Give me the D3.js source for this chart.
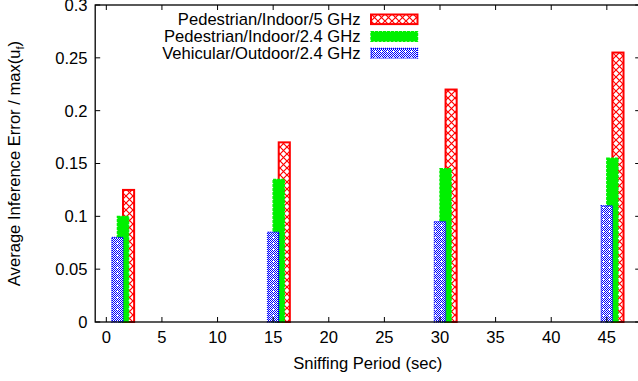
<!DOCTYPE html>
<html><head><meta charset="utf-8">
<script src="https://cdn.jsdelivr.net/npm/d3@7"></script>
<style>
html,body{margin:0;padding:0;background:#fff;}
svg text{font-family:"Liberation Sans",Arial,Helvetica,sans-serif;font-size:16.6px;fill:#000;}
</style></head>
<body>
<svg id="chart" width="638" height="381"></svg>
<script>
// ---- data ----
const periods = [1, 15, 30, 45];
const seriesNames = ["Pedestrian/Indoor/5 GHz", "Pedestrian/Indoor/2.4 GHz", "Vehicular/Outdoor/2.4 GHz"];
const ped5 = [0.125, 0.17, 0.22, 0.255];
const ped24 = [0.10, 0.135, 0.145, 0.155];
const veh24 = [0.08, 0.085, 0.095, 0.11];
const xTicks = [0, 5, 10, 15, 20, 25, 30, 35, 40, 45];
const yTicks = [0, 0.05, 0.1, 0.15, 0.2, 0.25, 0.3];
const xLabel = "Sniffing Period (sec)";

// ---- layout ----
const svg = d3.select("#chart");
const L = 95.2, R = 640.2, T = 5, B = 322;
const x = d3.scaleLinear().domain([-1, 48]).range([L, R]);
const y = d3.scaleLinear().domain([0, 0.3]).range([B, T]);

// patterns
const defs = svg.append("defs");
const pr = defs.append("pattern").attr("id", "pRed").attr("patternUnits", "userSpaceOnUse")
  .attr("width", 7).attr("height", 7);
pr.append("rect").attr("width", 7).attr("height", 7).attr("fill", "#fff");
pr.append("path").attr("d", "M0,0L7,7M7,0L0,7").attr("stroke", "#ff0000").attr("stroke-width", 1.2);

const pg = defs.append("pattern").attr("id", "pGreen").attr("patternUnits", "userSpaceOnUse")
  .attr("width", 4).attr("height", 4);
pg.append("rect").attr("width", 4).attr("height", 4).attr("fill", "#00f000");

const pb = defs.append("pattern").attr("id", "pBlue").attr("patternUnits", "userSpaceOnUse")
  .attr("width", 6).attr("height", 6);
pb.append("rect").attr("width", 6).attr("height", 6).attr("fill", "#fff");
pb.append("path").attr("d", "M0,0h1v1h-1zM2,0h1v1h-1zM4,0h1v1h-1zM1,1h1v1h-1zM3,1h1v1h-1zM5,1h1v1h-1zM0,2h1v1h-1zM2,2h1v1h-1zM4,2h1v1h-1zM1,3h1v1h-1zM5,3h1v1h-1zM0,4h1v1h-1zM2,4h1v1h-1zM4,4h1v1h-1zM1,5h1v1h-1zM3,5h1v1h-1zM5,5h1v1h-1z")
  .attr("fill", "#0000ff");

const series = [
  {name: seriesNames[0], values: ped5, off: 1.0, fill: "url(#pRed)", stroke: "#ff0000", dash: null, sw: 2},
  {name: seriesNames[1], values: ped24, off: 0.5, fill: "url(#pGreen)", stroke: "#00f000", dash: "3,1", sw: 1.4},
  {name: seriesNames[2], values: veh24, off: 0.0, fill: "url(#pBlue)", stroke: "#0000ff", dash: "1,1", sw: 1.4}
];
const bw = 1.0;

// bars (red, green, blue order so blue on top)
series.forEach(s => {
  svg.append("g").selectAll("rect").data(periods.map((p, i) => ({p, v: s.values[i]})))
    .join("rect")
    .attr("x", d => x(d.p + s.off - bw / 2))
    .attr("width", d => x(d.p + s.off + bw / 2) - x(d.p + s.off - bw / 2))
    .attr("y", d => y(d.v))
    .attr("height", d => y(0) - y(d.v))
    .attr("fill", s.fill)
    .attr("stroke", s.stroke)
    .attr("stroke-width", s.sw)
    .attr("stroke-dasharray", s.dash);
});

// frame
svg.append("rect").attr("x", L).attr("y", T).attr("width", R - L).attr("height", B - T)
  .attr("fill", "none").attr("stroke", "#000").attr("stroke-width", 1.3);

// ticks (inward, mirrored)
const tl = 5;
const tg = svg.append("g").attr("stroke", "#000").attr("stroke-width", 1);
xTicks.forEach(t => {
  tg.append("line").attr("x1", x(t)).attr("x2", x(t)).attr("y1", B).attr("y2", B - tl);
  tg.append("line").attr("x1", x(t)).attr("x2", x(t)).attr("y1", T).attr("y2", T + tl);
});
yTicks.forEach(t => {
  tg.append("line").attr("x1", L).attr("x2", L + tl).attr("y1", y(t)).attr("y2", y(t));
  tg.append("line").attr("x1", R).attr("x2", R - tl).attr("y1", y(t)).attr("y2", y(t));
});

// tick labels
svg.append("g").selectAll("text").data(xTicks).join("text")
  .attr("x", d => x(d)).attr("y", 343).attr("text-anchor", "middle").text(d => d);
svg.append("g").selectAll("text").data(yTicks).join("text")
  .attr("x", 87.5).attr("y", d => y(d)).attr("dy", "0.36em").attr("text-anchor", "end")
  .text(d => String(+d.toFixed(2)));

// axis labels
svg.append("text").attr("x", (L + R) / 2).attr("y", 369).attr("text-anchor", "middle").text(xLabel);
const yl = svg.append("text").attr("transform", `translate(20,${(T + B) / 2}) rotate(-90)`)
  .attr("text-anchor", "middle");
yl.append("tspan").text("Average Inference Error / max(u");
yl.append("tspan").attr("font-size", "11px").attr("dy", "4").text("f");
yl.append("tspan").attr("dy", "-4").text(")");

// legend
const legY = [19.3, 36.4, 53.3];
const lg = svg.append("g");
series.forEach((s, i) => {
  lg.append("text").attr("x", 360.5).attr("y", legY[i]).attr("dy", "0.36em")
    .attr("text-anchor", "end").text(s.name);
  lg.append("rect").attr("x", 371).attr("y", legY[i] - 4.8).attr("width", 46.5).attr("height", 9.6)
    .attr("fill", s.fill).attr("stroke", s.stroke).attr("stroke-width", s.sw)
    .attr("stroke-dasharray", s.dash);
});
</script>
</body></html>
